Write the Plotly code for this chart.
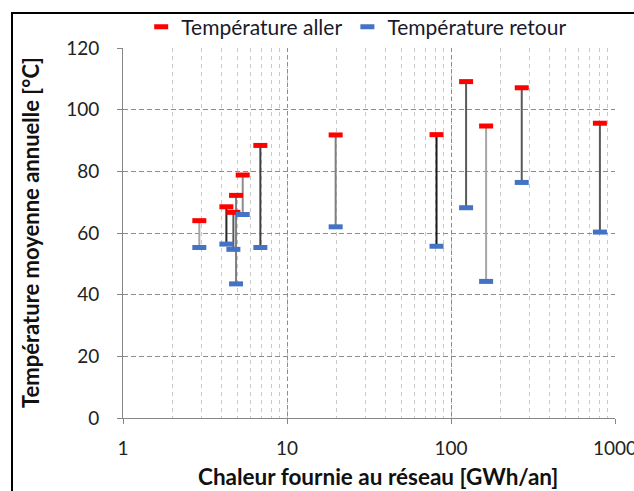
import plotly.graph_objects as go

# Heat delivered by each network [GWh/an] and its annual mean temperatures [°C]
chaleur = [2.92, 4.27, 4.71, 4.89, 5.37, 6.88, 19.8, 81.6, 123.6, 163.7, 270, 809]
temp_aller = [64.0, 68.5, 66.7, 72.2, 78.8, 88.4, 91.8, 91.9, 109.1, 94.7, 107.1, 95.6]
temp_retour = [55.3, 56.4, 54.7, 43.5, 66.0, 55.3, 62.0, 55.7, 68.2, 44.3, 76.4, 60.3]

# Shade of the connector joining supply and return of each network
connector_colors = ["#a6a6a6", "#262626", "#595959", "#7f7f7f", "#8c8c8c", "#404040",
                    "#7f7f7f", "#1a1a1a", "#595959", "#a6a6a6", "#595959", "#595959"]

x_tick_vals = [1, 10, 100, 1000]
x_tick_text = ["1", "10", "100", "1000"]
y_tick_vals = [0, 20, 40, 60, 80, 100, 120]

FONT = "Lato"
W, H = 634, 491
M_L, M_R, M_T, M_B = 123, 19, 48, 73

fig = go.Figure()

# vertical connectors between supply and return temperature
for xv, ya, yr, c in zip(chaleur, temp_aller, temp_retour, connector_colors):
    fig.add_trace(go.Scatter(
        x=[xv, xv], y=[yr, ya], mode="lines",
        line=dict(color=c, width=2), showlegend=False, hoverinfo="skip"))

fig.add_trace(go.Scatter(
    x=chaleur, y=temp_aller, mode="markers", name="Température aller",
    marker=dict(symbol="line-ew", size=10, color="#ff0000",
                line=dict(color="#ff0000", width=5))))
fig.add_trace(go.Scatter(
    x=chaleur, y=temp_retour, mode="markers", name="Température retour",
    marker=dict(symbol="line-ew", size=10, color="#4472c4",
                line=dict(color="#4472c4", width=5))))

pw = W - M_L - M_R
ph = H - M_T - M_B

fig.update_layout(
    width=W, height=H,
    margin=dict(l=M_L, r=M_R, t=M_T, b=M_B, autoexpand=False),
    paper_bgcolor="white", plot_bgcolor="white",
    font=dict(family=FONT, size=19, color="#222222"),
    showlegend=True,
    legend=dict(orientation="h", x=0.475, xanchor="center",
                yref="container", y=1 - 27 / H, yanchor="middle",
                font=dict(family=FONT, size=21, color="#1a1a2a"),
                itemwidth=30, bgcolor="rgba(0,0,0,0)"),
    xaxis=dict(
        type="log", range=[0, 3],
        tickvals=x_tick_vals, ticktext=x_tick_text,
        ticks="outside", ticklen=5, tickcolor="#868686",
        showline=True, linecolor="#868686", linewidth=1,
        showgrid=True, gridcolor="#8c8c8c", griddash="4px,3px", gridwidth=1,
        minor=dict(dtick="D1", showgrid=True, gridcolor="#c8c8c8",
                   griddash="4px,4px", ticks=""),
        ticklabelstandoff=8, ticklabeloverflow="allow",
        tickfont=dict(family=FONT, size=19, color="#222222"),
        zeroline=False),
    yaxis=dict(
        range=[0, 120], tickvals=y_tick_vals,
        ticks="outside", ticklen=5, tickcolor="#868686",
        showline=True, linecolor="#868686", linewidth=1,
        showgrid=True, gridcolor="#8c8c8c", griddash="5px,3px", gridwidth=1,
        ticklabelstandoff=14,
        tickfont=dict(family=FONT, size=19, color="#222222"),
        zeroline=False),
)

# axis titles
fig.add_annotation(
    text="Chaleur fournie au réseau [GWh/an]", xref="paper", yref="paper",
    x=(378 - M_L) / pw, y=-(476 - (H - M_B)) / ph, xanchor="center", yanchor="middle",
    showarrow=False, font=dict(family=FONT, size=22.5, color="#111111", weight="bold"))
fig.add_annotation(
    text="Température moyenne annuelle [°C]", xref="paper", yref="paper",
    x=-(M_L - 30) / pw, y=(H - M_B - 233) / ph, xanchor="center", yanchor="middle",
    textangle=-90, showarrow=False,
    font=dict(family=FONT, size=22, color="#111111", weight="bold"))

# outer frame of the chart area
fig.add_shape(type="rect", xref="paper", yref="paper",
              x0=-(M_L - 12) / pw, x1=(W - M_L + 10) / pw,
              y0=-(M_B + 10) / ph, y1=1 + (M_T - 13) / ph,
              line=dict(color="black", width=2), layer="above")

fig.write_html("out.html")
